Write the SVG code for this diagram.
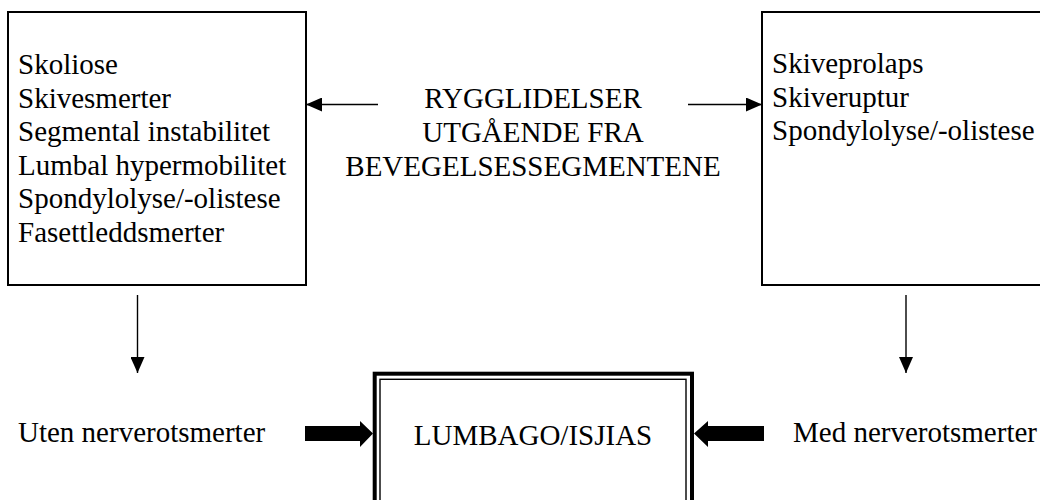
<svg xmlns="http://www.w3.org/2000/svg" width="1040" height="500" viewBox="0 0 1040 500">
<style>
text{font-family:"Liberation Serif","Times New Roman",serif;font-size:29px;fill:#000}
.box{fill:#fff;stroke:#000;stroke-width:2}
.ln{stroke:#000;stroke-width:1.4;fill:none}
.c{text-anchor:middle}
</style>
<defs>
<marker id="ah" markerWidth="16" markerHeight="14" refX="16" refY="7" orient="auto" markerUnits="userSpaceOnUse">
<path d="M0,0 L16,7 L0,14 Z" fill="#000"/>
</marker>
</defs>
<rect width="1040" height="500" fill="#fff"/>
<g id="left-box">
<rect class="box" x="8" y="12" width="298" height="273"/>
<text x="18" y="74">Skoliose</text>
<text x="18" y="107.6">Skivesmerter</text>
<text x="18" y="141.2">Segmental instabilitet</text>
<text x="18" y="174.8">Lumbal hypermobilitet</text>
<text x="18" y="208.4">Spondylolyse/-olistese</text>
<text x="18" y="242">Fasettleddsmerter</text>
</g>
<g id="right-box">
<rect class="box" x="762" y="12" width="300" height="273"/>
<text x="772" y="73">Skiveprolaps</text>
<text x="772" y="106.6">Skiveruptur</text>
<text x="772" y="140.2">Spondylolyse/-olistese</text>
</g>
<g id="center-label">
<text class="c" x="533" y="108">RYGGLIDELSER</text>
<text class="c" x="533" y="142">UTGÅENDE FRA</text>
<text class="c" x="533" y="176">BEVEGELSESSEGMENTENE</text>
</g>
<g id="lumbago">
<rect x="374.7" y="373.7" width="317.3" height="140" fill="#fff" stroke="#000" stroke-width="4"/>
<rect x="380" y="379.3" width="306" height="140" fill="none" stroke="#000" stroke-width="1.4"/>
<text class="c" x="533" y="445">LUMBAGO/ISJIAS</text>
</g>
<g id="uten">
<text x="18" y="442">Uten nerverotsmerter</text>
</g>
<g id="med">
<text x="793" y="442">Med nerverotsmerter</text>
</g>
<g id="connectors">
<line class="ln" x1="378" y1="104.5" x2="306" y2="104.5" marker-end="url(#ah)"/>
<line class="ln" x1="688" y1="104.5" x2="762" y2="104.5" marker-end="url(#ah)"/>
<line class="ln" x1="137.5" y1="295" x2="137.5" y2="373" marker-end="url(#ah)"/>
<line class="ln" x1="906" y1="295" x2="906" y2="373" marker-end="url(#ah)"/>
<path d="M305,426 L360,426 L360,421 L373,433.5 L360,447 L360,441 L305,441 Z" fill="#000"/>
<path d="M764,426 L708,426 L708,421 L694,433.5 L708,447 L708,441 L764,441 Z" fill="#000"/>
</g>
</svg>
